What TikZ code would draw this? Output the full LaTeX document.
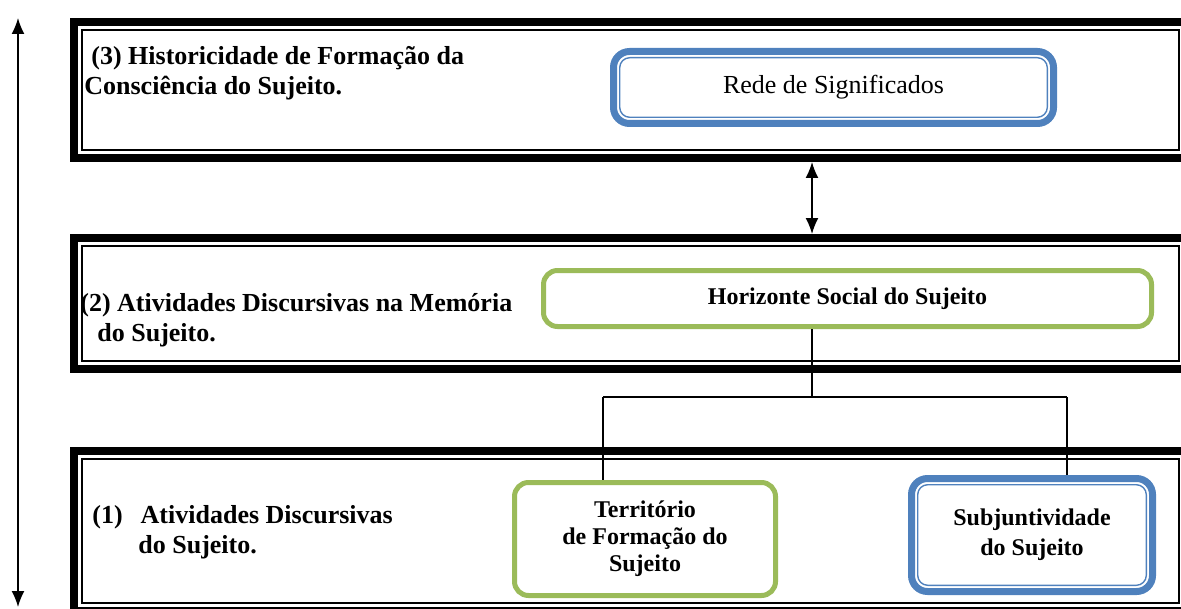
\documentclass[tikz,border=0pt]{standalone}
\usepackage{fontspec}
\setmainfont{Liberation Serif}
\usetikzlibrary{calc}
\usetikzlibrary{arrows.meta}

\definecolor{wordblue}{HTML}{4F81BD}
\definecolor{wordgreen}{HTML}{9BBB59}

\tikzset{
  levelframe/.style={draw=black, line width=4pt, outer sep=2pt, inner sep=0pt,
    path picture={\draw[line width=0.75pt]
      ([shift={(4pt,-4pt)}]path picture bounding box.north west) rectangle
      ([shift={(-4pt,4pt)}]path picture bounding box.south east);}},
  bluebox/.style={draw=wordblue, line width=3.5pt, rounded corners=8pt, outer sep=1.75pt,
    align=center, font=\fontsize{12}{14.5}\selectfont\bfseries,
    path picture={\draw[wordblue, line width=0.7pt, rounded corners=5pt]
      ([shift={(3.1pt,-3.1pt)}]path picture bounding box.north west) rectangle
      ([shift={(-3.1pt,3.1pt)}]path picture bounding box.south east);}},
  greenbox/.style={draw=wordgreen, line width=2.5pt, rounded corners=7pt, outer sep=1.25pt,
    align=center, font=\fontsize{12}{13.5}\selectfont\bfseries},
  leveltitle/.style={anchor=west, align=left, inner sep=0pt,
    font=\fontsize{13}{15}\selectfont\bfseries},
  conn/.style={line width=0.8pt},
  >={Latex[length=8pt,width=6.5pt]}
}

\begin{document}
\begin{tikzpicture}[x=0.5pt, y=-0.5pt]
        \clip (0,0) rectangle (1181,609);

        % Level 3
        \node [levelframe, minimum width=556.5pt, minimum height=68pt] (lvl3) at (630.5,90) {};
        \node [leveltitle] (t3) at (84,73) {\hspace*{3.5pt}(3) Historicidade de Formação da\\Consciência do Sujeito.};
        \node [bluebox, font=\fontsize{13}{15}\selectfont, minimum width=220pt, minimum height=36pt] (rede) at (833.5,87.5) {Rede de Significados};

        % Level 2
        \node [levelframe, minimum width=556.5pt, minimum height=65.5pt] (lvl2) at (630.5,303.5) {};
        \node [leveltitle] (t2) at (80,320) {(2) Atividades Discursivas na Memória\\\hspace*{8.5pt}do Sujeito.};
        \node [greenbox, minimum width=304pt, minimum height=28pt] (hsoc) at (847.5,298.5) {Horizonte Social do Sujeito};

        % Level 1
        \node [levelframe, minimum width=556.5pt, minimum height=80pt] (lvl1) at (630.5,531) {};
        \node [leveltitle] (t1) at (92,532) {(1)\hspace{9pt}Atividades Discursivas\\\hspace*{23pt}do Sujeito.};
        \node [greenbox, minimum width=130.5pt, minimum height=56.5pt] (terr) at (645,539) {Território\\de Formação do\\Sujeito};
        \node [bluebox, font=\fontsize{12}{15}\selectfont\bfseries, minimum width=120.5pt, minimum height=56.5pt] (subj) at (1032,535) {Subjuntividade\\do Sujeito};

        % Connectors
        \coordinate (axis) at (812,0);
        \coordinate (busl) at (603,397);
        \coordinate (busr) at (1067,397);
        \draw [conn, <->] (lvl3.south -| axis) -- (lvl2.north -| axis);
        \draw [conn] (hsoc.south -| axis) -- (busl -| axis);
        \draw [conn] (busl) -- (busr);
        \draw [conn] (busl) -- (busl |- terr.north);
        \draw [conn] (busr) -- (busr |- subj.north);

        % Time axis
        \coordinate (top) at (18,18);
        \coordinate (bot) at (18,607);
        \draw [conn, <->] (top) -- (bot);
    \end{tikzpicture}
\end{document}
